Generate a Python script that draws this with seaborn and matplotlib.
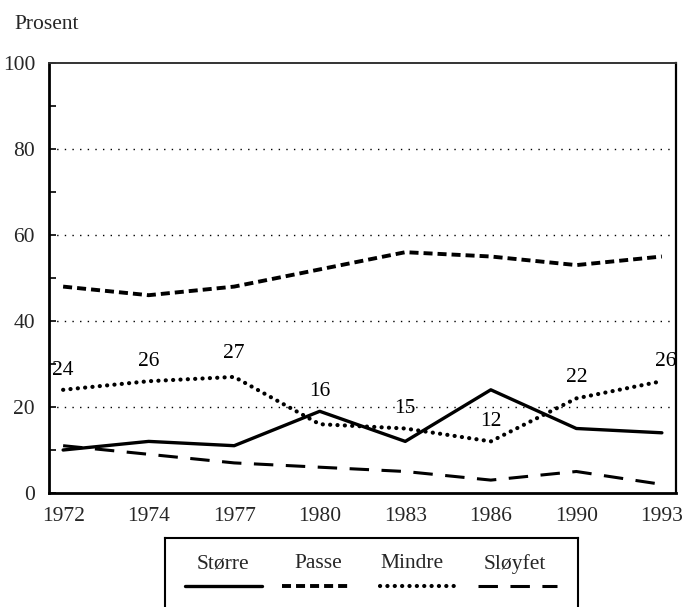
"""Line chart: share answering Større / Passe / Mindre / Sløyfet, 1972-1993."""

import matplotlib.pyplot as plt
import pandas as pd
import seaborn as sns

years = ["1972", "1974", "1977", "1980", "1983", "1986", "1990", "1993"]
storre = [10, 12, 11, 19, 12, 24, 15, 14]
passe = [48, 46, 48, 52, 56, 55, 53, 55]
mindre = [24, 26, 27, 16, 15, 12, 22, 26]
sloyfet = [11, 9, 7, 6, 5, 3, 5, 2]
series_names = ["Større", "Passe", "Mindre", "Sløyfet"]
y_ticks = [0, 20, 40, 60, 80, 100]

df = pd.DataFrame({"year": years, "Større": storre, "Passe": passe,
                   "Mindre": mindre, "Sløyfet": sloyfet})
long_df = df.melt(id_vars="year", var_name="serie", value_name="prosent")

sns.set_theme(style="white")
plt.rcParams["font.family"] = ["Liberation Serif", "DejaVu Serif"]
plt.rcParams["lines.scale_dashes"] = False

FS = 15.5

styles = {
    "Større": dict(linestyle="-", linewidth=2.4),
    "Passe": dict(linestyle=(0, (6.5, 3.6)), linewidth=2.8),
    "Mindre": dict(linestyle=(0, (0.1, 5.2)), linewidth=3.0,
                   dash_capstyle="round"),
    "Sløyfet": dict(linestyle=(0, (14, 9)), linewidth=2.2),
}

fig = plt.figure(figsize=(6.85, 6.07), dpi=100)
ax = fig.add_axes([49 / 685, 1 - 493 / 607, 627 / 685, 430 / 607])

for name in series_names:
    sub = long_df[long_df["serie"] == name]
    sns.lineplot(data=sub, x="year", y="prosent", ax=ax, color="black",
                 sort=False, legend=False, **styles[name])

# value labels on Mindre (offset of label centre, points)
label_offsets = [14.2, 14.5, 17.2, 23.9, 14.7, 14.0, 15.4, 14.5]
for i, (yr, v) in enumerate(zip(years, mindre)):
    dx = 3 if i == len(years) - 1 else 0
    ax.annotate(str(v), (i, v), xytext=(dx, label_offsets[i]),
                textcoords="offset points", ha="center", va="center",
                fontsize=FS, color="black")

ax.set_xlim(-0.165, 7.165)
ax.set_ylim(0, 100)
ax.set_yticks(y_ticks)
ax.set_yticks([10, 30, 50, 70, 90], minor=True)
ax.set_yticklabels([str(t) for t in y_ticks], fontsize=FS)
ax.tick_params(axis="x", labelsize=FS, length=0, pad=10)
ax.tick_params(axis="y", which="both", direction="in", left=True,
               length=5, width=1.2, pad=10, color="black")
ax.set_xlabel("")
ax.set_ylabel("")

for t in [20, 40, 60, 80]:
    ax.axhline(t, color="black", linewidth=1.0, linestyle=(0, (1, 4.5)),
               zorder=0)

for side in ["left", "bottom"]:
    ax.spines[side].set_linewidth(2.0)
    ax.spines[side].set_color("black")
ax.spines["right"].set_linewidth(1.6)
ax.spines["right"].set_color("black")
ax.spines["top"].set_linewidth(1.4)
ax.spines["top"].set_color("#333333")

fig.text(14 / 685, 1 - 29 / 607, "Prosent", fontsize=FS, ha="left",
         va="baseline")

# legend box below the plot, label above each line sample
lax = fig.add_axes([165 / 685, 0, (578 - 165) / 685, (607 - 538) / 607])
lax.set_xlim(165, 578)
lax.set_ylim(607, 538)
lax.set_xticks([])
lax.set_yticks([])
lax.patch.set_alpha(0)
lax.spines["bottom"].set_visible(False)
for side in ["left", "right", "top"]:
    lax.spines[side].set_linewidth(1.5)
    lax.spines[side].set_color("black")

label_x = [223, 318, 412, 515]
sample_x = [(185, 262), (282, 352), (380, 455), (478, 557)]
for name, cx, (x0, x1) in zip(series_names, label_x, sample_x):
    lax.text(cx, 564, name, fontsize=FS, ha="center", va="center")
    lax.plot([x0, x1], [586, 586], color="black", **styles[name])

fig.savefig("out.png", dpi=100)
